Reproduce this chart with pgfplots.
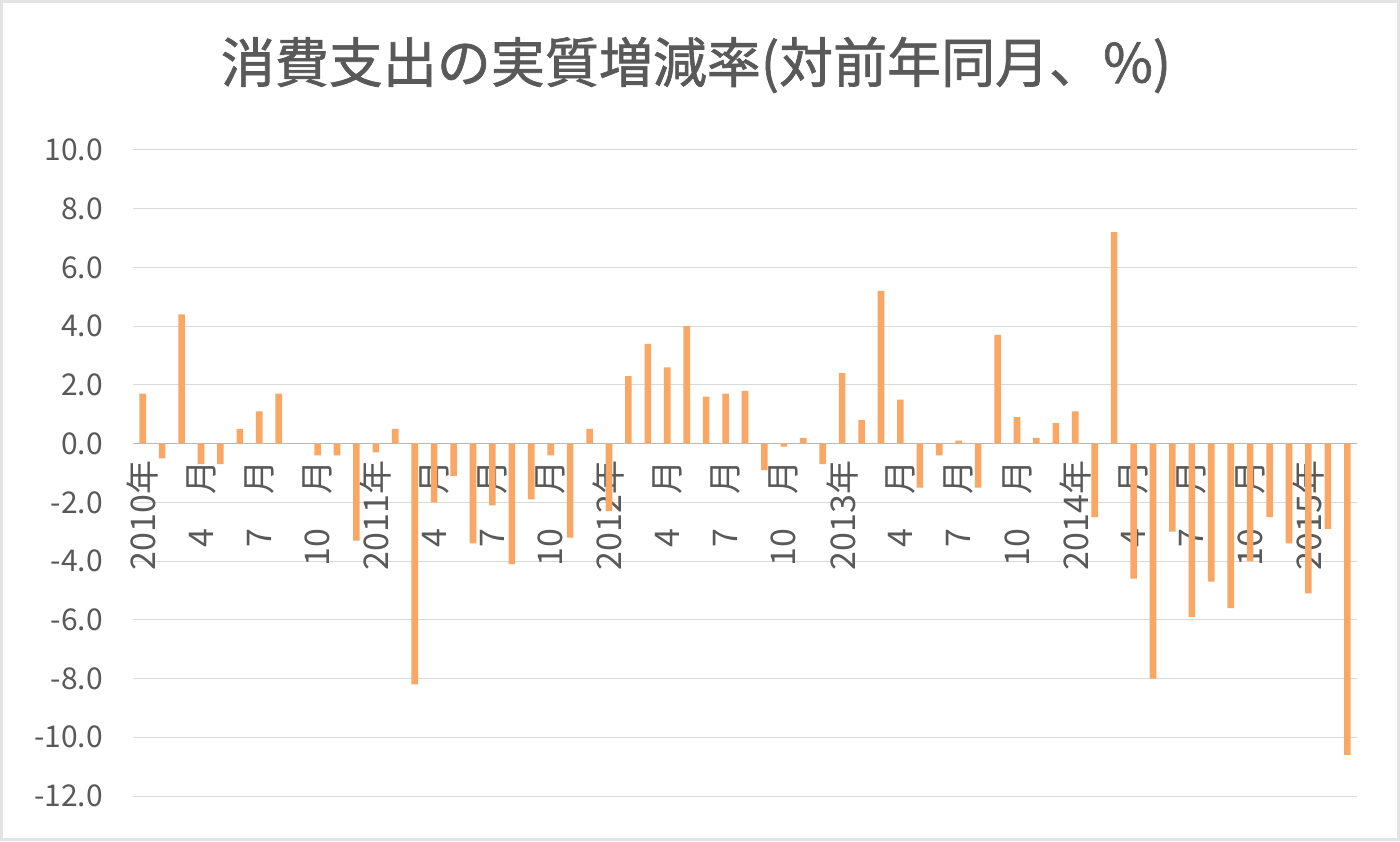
\documentclass[border=0pt]{standalone}
\usepackage{pgfplots}
\pgfplotsset{compat=1.18}
\usepackage{fontspec}
\setmainfont{Noto Sans CJK JP}
\newfontfamily\titlefont[FakeBold=1.2]{Noto Sans CJK JP}
\definecolor{barc}{HTML}{F8A765}
\definecolor{txt}{HTML}{595959}
\definecolor{gridc}{HTML}{D9D9D9}
\newcommand{\M}[1]{#1\hspace{1.0em}月}
\begin{document}
\begin{tikzpicture}
\fill[gray!22] (0pt,0pt) rectangle (700pt,420.5pt);
\fill[white] (1.5pt,1.5pt) rectangle (698.5pt,419pt);
\node[text=txt, font=\titlefont\fontsize{27}{31}\selectfont] at (348pt,388pt) {消費支出の実質増減率(対前年同月、\%)};
\begin{axis}[
  at={(66.5pt,22.5pt)}, anchor=south west,
  width=612pt, height=323pt, scale only axis,
  xmin=-0.5, xmax=62.5, ymin=-12, ymax=10,
  axis x line=middle, axis y line=left,
  hide obscured x ticks=false,
  every inner x axis line/.append style={-},
  every outer y axis line/.append style={-},
  x axis line style={draw=gray!55, line width=0.6pt, -},
  y axis line style={draw=none, -},
  ytick={-12,-10,...,10},
  xtick={0,3,...,60},
  xticklabels={2010年,\M{4},\M{7},\M{10},2011年,\M{4},\M{7},\M{10},2012年,\M{4},\M{7},\M{10},2013年,\M{4},\M{7},\M{10},2014年,\M{4},\M{7},\M{10},2015年},
  major tick length=0pt,
  ymajorgrids, grid style={draw=gridc, line width=0.5pt},
  yticklabel style={font=\fontsize{15}{18}\selectfont, text=txt, xshift=-11.5pt, /pgf/number format/.cd, fixed, fixed zerofill, precision=1, assume math mode=true},
  xticklabel style={font=\fontsize{17}{20}\selectfont, text=txt, rotate=90, anchor=east, xshift=-5pt},
  clip=false,
]
\addplot[ybar, bar width=3.3pt, fill=barc, draw=none] coordinates {
(0,1.7) (1,-0.5) (2,4.4) (3,-0.7) (4,-0.7) (5,0.5) (6,1.1) (7,1.7) (8,0.0) (9,-0.4) (10,-0.4) (11,-3.3)
(12,-0.3) (13,0.5) (14,-8.2) (15,-2.0) (16,-1.1) (17,-3.4) (18,-2.1) (19,-4.1) (20,-1.9) (21,-0.4) (22,-3.2) (23,0.5)
(24,-2.3) (25,2.3) (26,3.4) (27,2.6) (28,4.0) (29,1.6) (30,1.7) (31,1.8) (32,-0.9) (33,-0.1) (34,0.2) (35,-0.7)
(36,2.4) (37,0.8) (38,5.2) (39,1.5) (40,-1.5) (41,-0.4) (42,0.1) (43,-1.5) (44,3.7) (45,0.9) (46,0.2) (47,0.7)
(48,1.1) (49,-2.5) (50,7.2) (51,-4.6) (52,-8.0) (53,-3.0) (54,-5.9) (55,-4.7) (56,-5.6) (57,-4.0) (58,-2.5) (59,-3.4)
(60,-5.1) (61,-2.9) (62,-10.6)
};
\end{axis}
\pgfresetboundingbox
\useasboundingbox (0pt,0pt) rectangle (700pt,420.5pt);
\end{tikzpicture}
\end{document}
